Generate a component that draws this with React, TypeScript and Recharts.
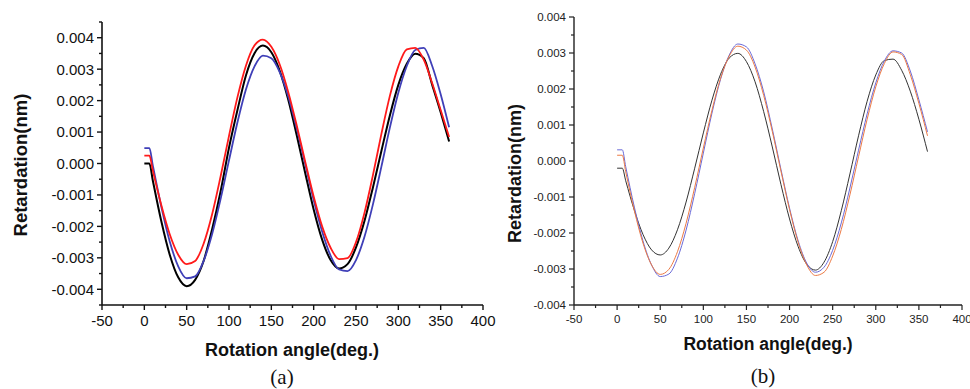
import React from 'react';
import { LineChart, Line, XAxis, YAxis } from 'recharts';

// ---------- data ----------
const ANGLES = [0, 6, 10, 20, 30, 40, 50, 60, 70, 80, 90, 100, 110, 120, 130, 140, 150, 160, 170, 180, 190, 200, 210, 220, 230, 240, 250, 260, 270, 280, 290, 300, 310, 320, 330, 340, 350, 360];

// panel (a)
const A_BLACK = [0.0, 0.0, -0.00054, -0.00183, -0.0029, -0.00362, -0.0039, -0.0037, -0.0031, -0.0021, -0.0009, 0.0005, 0.0017, 0.0028, 0.0035, 0.00375, 0.00354, 0.00294, 0.00203, 0.0009, -0.0003, -0.00146, -0.00242, -0.00307, -0.00334, -0.0032, -0.00267, -0.00183, -0.00076, 0.0004, 0.00153, 0.0025, 0.00317, 0.00349, 0.00335, 0.0025, 0.00163, 0.0007];
const A_RED = [0.00025, 0.00025, -0.00022, -0.00132, -0.00225, -0.0029, -0.0032, -0.0031, -0.00255, -0.00162, -0.00042, 0.00088, 0.00211, 0.00311, 0.00375, 0.00394, 0.00371, 0.00314, 0.00227, 0.00121, 0.00006, -0.00105, -0.002, -0.00268, -0.00304, -0.00301, -0.0025, -0.00157, -0.00037, 0.00094, 0.00215, 0.00309, 0.00363, 0.00368, 0.0033, 0.00255, 0.0017, 0.00084];
const A_BLUE = [0.00049, 0.00049, -0.00006, -0.00137, -0.00248, -0.00327, -0.00365, -0.00359, -0.0031, -0.00225, -0.00114, 0.0001, 0.00131, 0.00235, 0.00308, 0.00343, 0.00335, 0.0029, 0.00213, 0.00111, -0.00002, -0.00116, -0.00216, -0.00293, -0.00337, -0.00342, -0.00307, -0.00233, -0.0013, -0.0001, 0.00114, 0.00225, 0.0031, 0.00361, 0.00368, 0.0031, 0.0022, 0.00115];

// panel (b)
const B_BLACK = [-0.0002, -0.0002, -0.00055, -0.00137, -0.00204, -0.00247, -0.00261, -0.00242, -0.00191, -0.00114, -0.0002, 0.00078, 0.00169, 0.00241, 0.00286, 0.00299, 0.00276, 0.0022, 0.00137, 0.00039, -0.00065, -0.00161, -0.00238, -0.00287, -0.00303, -0.00281, -0.00224, -0.00138, -0.00036, 0.0007, 0.00166, 0.00239, 0.00279, 0.00283, 0.00252, 0.00194, 0.00116, 0.00026];
const B_ORANGE = [0.00016, 0.00016, -0.0003, -0.00138, -0.00228, -0.00289, -0.00315, -0.00301, -0.00252, -0.00173, -0.00073, 0.00036, 0.00141, 0.0023, 0.00291, 0.00319, 0.00308, 0.00261, 0.00182, 0.00082, -0.00028, -0.00135, -0.00226, -0.00289, -0.00318, -0.00309, -0.00264, -0.0019, -0.00094, 0.00012, 0.00116, 0.00206, 0.00271, 0.00303, 0.00296, 0.0024, 0.0016, 0.0007];
const B_BLUE = [0.00031, 0.00031, -0.00016, -0.00128, -0.00222, -0.00289, -0.00321, -0.00314, -0.0027, -0.00192, -0.0009, 0.00022, 0.00133, 0.00227, 0.00294, 0.00325, 0.00317, 0.0027, 0.00192, 0.00089, -0.00023, -0.00131, -0.00222, -0.00284, -0.00309, -0.00295, -0.00248, -0.00172, -0.00075, 0.0003, 0.00131, 0.00217, 0.00278, 0.00306, 0.003, 0.0025, 0.0017, 0.00081];

// ticks
const X_TICKS = [-50, -25, 0, 25, 50, 75, 100, 125, 150, 175, 200, 225, 250, 275, 300, 325, 350, 375, 400];
const X_MAJOR = [-50, 0, 50, 100, 150, 200, 250, 300, 350, 400];
const Y_TICKS_A = [-0.0045, -0.004, -0.0035, -0.003, -0.0025, -0.002, -0.0015, -0.001, -0.0005, 0, 0.0005, 0.001, 0.0015, 0.002, 0.0025, 0.003, 0.0035, 0.004, 0.0045];
const Y_TICKS_B = [-0.004, -0.0035, -0.003, -0.0025, -0.002, -0.0015, -0.001, -0.0005, 0, 0.0005, 0.001, 0.0015, 0.002, 0.0025, 0.003, 0.0035, 0.004];
const Y_MAJOR = [-0.004, -0.003, -0.002, -0.001, 0, 0.001, 0.002, 0.003, 0.004];

const rowsA = ANGLES.map((a, i) => ({ angle: a, black: A_BLACK[i], red: A_RED[i], blue: A_BLUE[i] }));
const rowsB = ANGLES.map((a, i) => ({ angle: a, black: B_BLACK[i], orange: B_ORANGE[i], blue: B_BLUE[i] }));

const FONT = '"Liberation Sans", Arial, sans-serif';
const SERIF = '"Liberation Serif", "Times New Roman", serif';
const TS = 5;
const TM = 3;

const isIn = (arr: number[], v: number) => arr.some((m) => Math.abs(m - v) < 1e-9);

const makeYTick = (fontSize: number, color: string, sw: number) => (props: any) => {
  const { x, y, payload } = props;
  const axisX = x + TS + TM;
  const major = isIn(Y_MAJOR, payload.value);
  const len = major ? 5 : 3;
  return (
    <g>
      <line x1={axisX} x2={axisX - len} y1={y} y2={y} stroke={color} strokeWidth={sw} />
      {major && (
        <text x={axisX - 8} y={y} dy="0.36em" textAnchor="end" fontSize={fontSize} fontFamily={FONT} fill={color}>
          {payload.value.toFixed(3)}
        </text>
      )}
    </g>
  );
};

const makeXTick = (fontSize: number, color: string, sw: number, gap: number) => (props: any) => {
  const { x, y, payload } = props;
  const axisY = y - TS - TM;
  const major = isIn(X_MAJOR, payload.value);
  const len = major ? 5 : 3;
  return (
    <g>
      <line x1={x} x2={x} y1={axisY} y2={axisY + len} stroke={color} strokeWidth={sw} />
      {major && (
        <text x={x} y={axisY + gap} dy="0.72em" textAnchor="middle" fontSize={fontSize} fontFamily={FONT} fill={color}>
          {String(payload.value)}
        </text>
      )}
    </g>
  );
};

const boxText = (text: string, cx: number, cy: number, size: number, bold: boolean, rotate: boolean, family: string, hOverride?: number) => {
  const w = 260;
  const h = hOverride ?? Math.round(size * 1.3);
  return (
    <div
      style={{
        position: 'absolute',
        left: cx - w / 2,
        top: cy - h / 2,
        width: w,
        height: h,
        lineHeight: `${h}px`,
        textAlign: 'center',
        fontSize: size,
        fontWeight: bold ? 700 : 400,
        fontFamily: family,
        color: '#111',
        transform: rotate ? 'rotate(-90deg)' : undefined,
        whiteSpace: 'nowrap',
      }}
    >
      {text}
    </div>
  );
};

export default function App() {
  return (
    <div style={{ position: 'absolute', left: 0, top: 0, width: 970, height: 389, background: '#fff', overflow: 'hidden' }}>
      {/* panel (a) */}
      <div style={{ position: 'absolute', left: 0, top: 0 }}>
        <LineChart width={500} height={389} data={rowsA} margin={{ top: 22, right: 17, bottom: 54, left: 42 }}>
          <XAxis
            type="number"
            dataKey="angle"
            domain={[-50, 400]}
            ticks={X_TICKS}
            interval={0}
            height={30}
            tickSize={TS}
            tickMargin={TM}
            tickLine={false}
            axisLine={{ stroke: '#111', strokeWidth: 1.6 }}
            tick={makeXTick(15, '#111', 1.4, 10)}
            allowDataOverflow
          />
          <YAxis
            type="number"
            domain={[-0.0045, 0.0045]}
            ticks={Y_TICKS_A}
            interval={0}
            width={60}
            tickSize={TS}
            tickMargin={TM}
            tickLine={false}
            axisLine={{ stroke: '#111', strokeWidth: 1.6 }}
            tick={makeYTick(15, '#111', 1.4)}
            allowDataOverflow
          />
          <Line type="monotone" dataKey="black" stroke="#000000" strokeWidth={2} dot={false} isAnimationActive={false} />
          <Line type="monotone" dataKey="blue" stroke="#3f3fb8" strokeWidth={1.8} dot={false} isAnimationActive={false} />
          <Line type="monotone" dataKey="red" stroke="#ff1a1a" strokeWidth={1.8} dot={false} isAnimationActive={false} />
        </LineChart>
      </div>
      {boxText('Retardation(nm)', 21, 165, 18.5, true, true, FONT)}
      {boxText('Rotation angle(deg.)', 292, 350, 18, true, false, FONT)}
      {boxText('(a)', 282, 377, 21, false, false, SERIF, 22)}

      {/* panel (b) */}
      <div style={{ position: 'absolute', left: 485, top: 0 }}>
        <LineChart width={485} height={389} data={rowsB} margin={{ top: 17, right: 8, bottom: 54, left: 29 }}>
          <XAxis
            type="number"
            dataKey="angle"
            domain={[-50, 400]}
            ticks={X_TICKS}
            interval={0}
            height={30}
            tickSize={TS}
            tickMargin={TM}
            tickLine={false}
            axisLine={{ stroke: '#222', strokeWidth: 1.4 }}
            tick={makeXTick(11.5, '#222', 1.2, 10)}
            allowDataOverflow
          />
          <YAxis
            type="number"
            domain={[-0.004, 0.004]}
            ticks={Y_TICKS_B}
            interval={0}
            width={60}
            tickSize={TS}
            tickMargin={TM}
            tickLine={false}
            axisLine={{ stroke: '#222', strokeWidth: 1.4 }}
            tick={makeYTick(11.5, '#222', 1.2)}
            allowDataOverflow
          />
          <Line type="monotone" dataKey="black" stroke="#333333" strokeWidth={1} dot={false} isAnimationActive={false} />
          <Line type="monotone" dataKey="blue" stroke="#6a6ad8" strokeWidth={1} dot={false} isAnimationActive={false} />
          <Line type="monotone" dataKey="orange" stroke="#ec7a45" strokeWidth={1} dot={false} isAnimationActive={false} />
        </LineChart>
      </div>
      {boxText('Retardation(nm)', 515, 173, 18, true, true, FONT)}
      {boxText('Rotation angle(deg.)', 768, 344, 17.5, true, false, FONT)}
      {boxText('(b)', 763, 376, 21, false, false, SERIF, 22)}
    </div>
  );
}
